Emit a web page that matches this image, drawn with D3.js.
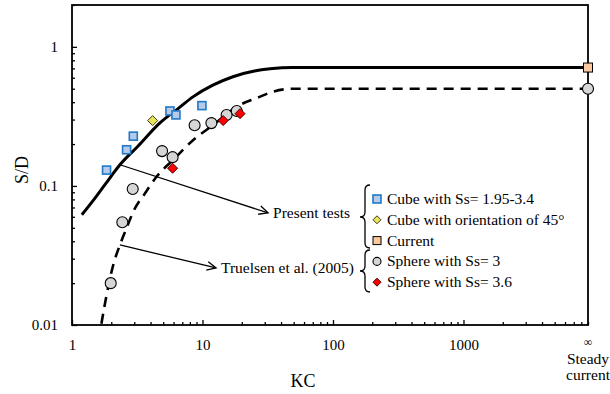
<!DOCTYPE html>
<html>
<head>
<meta charset="utf-8">
<script src="https://cdn.jsdelivr.net/npm/d3@7"></script>
<style>
  body { margin: 0; background: #fff; }
  svg { display: block; }
  svg text { font-family: "Liberation Serif", "Times New Roman", serif; fill: #000; }
</style>
</head>
<body>
<svg id="chart" width="610" height="394"></svg>
<script>
// KC value used to put the "steady current" points on the right edge
const KC_INF = 9000;

// curves
const solidKC = [1.19, 1.46, 1.8, 2.33, 3.2, 4.72, 6.5, 8.45, 12, 17.1, 25, 33, 49, 100, KC_INF];
const solidSD = [0.062, 0.079, 0.103, 0.142, 0.193, 0.284, 0.36, 0.437, 0.53, 0.61, 0.67, 0.695, 0.71, 0.71, 0.71];
const dashKC = [1.68, 1.79, 2.07, 2.33, 2.62, 2.95, 3.63, 4.46, 6, 8.5, 12, 19.4, 26, 34.9, 49, 100, KC_INF];
const dashSD = [0.0102, 0.0143, 0.027, 0.0377, 0.0497, 0.0654, 0.0886, 0.117, 0.155, 0.214, 0.273, 0.383, 0.428, 0.477, 0.5, 0.5, 0.5];

// points
const cubeKC = [1.84, 2.62, 2.95, 5.63, 6.26, 9.9];
const cubeSD = [0.130, 0.182, 0.228, 0.346, 0.324, 0.378];
const cube45KC = [4.15];
const cube45SD = [0.295];
const currentKC = [KC_INF];
const currentSD = [0.71];
const sphere3KC = [1.98, 2.43, 2.92, 4.9, 5.9, 8.7, 11.7, 15.3, 18.3, KC_INF];
const sphere3SD = [0.020, 0.0548, 0.095, 0.178, 0.161, 0.273, 0.283, 0.324, 0.346, 0.5];
const sphere36KC = [5.9, 14.4, 19.4];
const sphere36SD = [0.134, 0.295, 0.331];

const xTickValues = [1, 10, 100, 1000];
const xTickLabels = ['1', '10', '100', '1000'];
const yTickValues = [0.01, 0.1, 1];
const yTickLabels = ['0.01', '0.1', '1'];

const legendLabels = ['Cube with Ss= 1.95-3.4', 'Cube with orientation of 45\u00B0', 'Current', 'Sphere with Ss= 3', 'Sphere with Ss= 3.6'];

const FONT = '"Liberation Serif", "Times New Roman", serif';
const svg = d3.select('#chart');
const x = d3.scaleLog().domain([1, KC_INF]).range([72, 588]);
const y = d3.scaleLog().domain([0.01, 2]).range([325, 5]);

const zip = (a, b) => a.map((v, i) => [v, b[i]]);

// minor ticks
const xMinor = [];
[1, 10, 100, 1000].forEach(d => { for (let k = 2; k <= 9; k++) xMinor.push(d * k); });
const yMinor = [];
[0.01, 0.1, 1].forEach(d => { for (let k = 2; k <= 9; k++) if (d * k <= 2) yMinor.push(d * k); });

const gx = svg.append('g').attr('transform', 'translate(0,325)');
gx.call(d3.axisBottom(x).tickValues(xMinor).tickSize(-3).tickFormat(''));
gx.append('g').call(d3.axisBottom(x).tickValues(xTickValues).tickSize(-5).tickPadding(14)
  .tickFormat((d, i) => xTickLabels[i]));
const gy = svg.append('g').attr('transform', 'translate(72,0)');
gy.call(d3.axisLeft(y).tickValues(yMinor).tickSize(-3).tickFormat(''));
gy.append('g').call(d3.axisLeft(y).tickValues(yTickValues).tickSize(-5).tickPadding(14)
  .tickFormat((d, i) => yTickLabels[i]));
svg.selectAll('.domain').remove();
svg.selectAll('g').attr('font-family', FONT);
svg.selectAll('.tick line').attr('stroke', '#000').attr('stroke-width', 1.3);
svg.selectAll('.tick text').attr('font-size', 15).attr('fill', '#000');

// plot frame
svg.append('rect')
  .attr('x', x(1)).attr('y', y(2))
  .attr('width', x(KC_INF) - x(1)).attr('height', y(0.01) - y(2))
  .attr('fill', 'none').attr('stroke', '#000').attr('stroke-width', 1.8);

// axis titles
svg.append('text').attr('x', 303).attr('y', 387)
  .attr('text-anchor', 'middle').attr('font-size', 18).text('KC');
svg.append('text').attr('transform', 'translate(28,170) rotate(-90)')
  .attr('text-anchor', 'middle').attr('font-size', 18).text('S/D');
svg.append('text').attr('x', x(KC_INF)).attr('y', 346).attr('text-anchor', 'middle')
  .attr('font-size', 12).text('\u221E');
svg.append('text').attr('x', x(KC_INF)).attr('y', 364).attr('text-anchor', 'middle')
  .attr('font-size', 15.5).text('Steady');
svg.append('text').attr('x', x(KC_INF)).attr('y', 380).attr('text-anchor', 'middle')
  .attr('font-size', 15.5).text('current');

// curves
const line = d3.line().x(d => x(d[0])).y(d => y(d[1])).curve(d3.curveMonotoneX);
svg.append('path').datum(zip(solidKC, solidSD)).attr('d', line)
  .attr('fill', 'none').attr('stroke', '#000').attr('stroke-width', 3);
svg.append('path').datum(zip(dashKC, dashSD)).attr('d', line)
  .attr('fill', 'none').attr('stroke', '#000').attr('stroke-width', 2.6)
  .attr('stroke-dasharray', '10,7');

// markers
function marker(sel, type, s) {
  if (type === 'square') {
    sel.append('rect').attr('x', -s / 2).attr('y', -s / 2).attr('width', s).attr('height', s);
  } else if (type === 'circle') {
    sel.append('circle').attr('r', s / 2);
  } else {
    const h = s / 2 + 1;
    sel.append('path').attr('d', `M0,${-h}L${h},0L0,${h}L${-h},0Z`);
  }
}
const series = [
  {kc: cubeKC, sd: cubeSD, type: 'square', size: 8, fill: '#b7cbe9', stroke: '#1f78c8', sw: 1.6},
  {kc: cube45KC, sd: cube45SD, type: 'diamond', size: 8, fill: '#e9e55a', stroke: '#3b3b1a', sw: 1},
  {kc: currentKC, sd: currentSD, type: 'square', size: 9, fill: '#fbc9a0', stroke: '#000', sw: 1},
  {kc: sphere3KC, sd: sphere3SD, type: 'circle', size: 11, fill: '#d6d6d6', stroke: '#000', sw: 1.1},
  {kc: sphere36KC, sd: sphere36SD, type: 'diamond', size: 8, fill: '#ff0000', stroke: '#400000', sw: 1}
];
series.forEach(s => {
  svg.append('g').selectAll('g').data(zip(s.kc, s.sd)).join('g')
    .attr('transform', d => `translate(${x(d[0])},${y(d[1])})`)
    .each(function () { marker(d3.select(this), s.type, s.size); })
    .attr('fill', s.fill).attr('stroke', s.stroke).attr('stroke-width', s.sw);
});

// annotation arrows (in data units)
const notes = [
  {from: [2.33, 0.142], to: [31.8, 0.064], label: 'Present tests'},
  {from: [2.33, 0.0377], to: [12.7, 0.0257], label: 'Truelsen et al. (2005)'}
];
notes.forEach(n => {
  const x0 = x(n.from[0]), y0 = y(n.from[1]), x1 = x(n.to[0]), y1 = y(n.to[1]);
  const a = Math.atan2(y1 - y0, x1 - x0), L = 10, w = 0.45;
  svg.append('line').attr('x1', x0).attr('y1', y0).attr('x2', x1).attr('y2', y1)
    .attr('stroke', '#000').attr('stroke-width', 1.3);
  svg.append('path')
    .attr('d', `M${x1 - L * Math.cos(a - w)},${y1 - L * Math.sin(a - w)}L${x1},${y1}L${x1 - L * Math.cos(a + w)},${y1 - L * Math.sin(a + w)}`)
    .attr('fill', 'none').attr('stroke', '#000').attr('stroke-width', 1.3);
  svg.append('text').attr('x', x1 + 5).attr('y', y1 + 5).attr('font-size', 15.5).text(n.label);
});

// braces
function brace(xb, y0, y1, ym) {
  const r = 5;
  return `M${xb + r},${y0} Q${xb},${y0} ${xb},${y0 + r} L${xb},${ym - r} Q${xb},${ym} ${xb - r},${ym}` +
         ` Q${xb},${ym} ${xb},${ym + r} L${xb},${y1 - r} Q${xb},${y1} ${xb + r},${y1}`;
}
svg.append('path').attr('d', brace(365, 185, 248, 217)).attr('fill', 'none').attr('stroke', '#000').attr('stroke-width', 1.3);
svg.append('path').attr('d', brace(365, 250, 292, 271)).attr('fill', 'none').attr('stroke', '#000').attr('stroke-width', 1.3);

// legend
const legend = svg.append('g').attr('transform', 'translate(377,199)');
legendLabels.forEach((lab, i) => {
  const s = series[i];
  const g = legend.append('g').attr('transform', `translate(0,${i * 20.8})`);
  const m = g.append('g').attr('fill', s.fill).attr('stroke', s.stroke).attr('stroke-width', s.sw);
  marker(m, s.type, s.type === 'diamond' ? 6 : 8);
  g.append('text').attr('x', 10).attr('y', 5).attr('font-size', 15.5).text(lab);
});
</script>
</body>
</html>
